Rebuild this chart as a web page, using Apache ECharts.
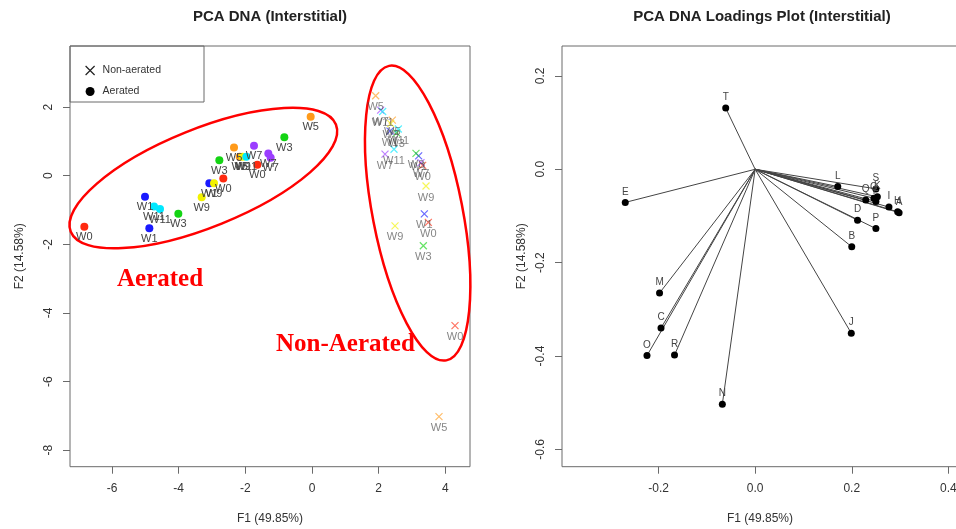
<!DOCTYPE html>
<html>
<head>
<meta charset="utf-8">
<script src="https://cdn.jsdelivr.net/npm/echarts@6/dist/echarts.min.js"></script>
<style>
  html, body { margin: 0; padding: 0; background: #fff; }
  #chart { width: 956px; height: 529px; }
</style>
</head>
<body>
<div id="chart"></div>
<script>
// ---- Tick positions ----
const scoreXTicks = [-6, -4, -2, 0, 2, 4];
const scoreYTicks = [-8, -6, -4, -2, 0, 2];
const loadXTicks = [-0.2, 0.0, 0.2, 0.4];
const loadYTicks = [-0.6, -0.4, -0.2, 0.0, 0.2];

// ---- PCA scores: aerated samples ----
const aeratedWeek = ['W0','W0','W0','W1','W1','W1','W3','W3','W3','W5','W5','W5','W7','W7','W7','W9','W9','W9','W11','W11','W11'];
const aeratedF1 = [-6.83, -2.66, -1.64, -5.01, -4.88, -3.08, -4.01, -2.78, -0.83, -2.34, -0.04, -2.17, -1.74, -1.31, -1.24, -3.31, -2.94, -2.08, -4.74, -4.56, -1.97];
const aeratedF2 = [-1.49, -0.08, 0.32, -0.61, -1.53, -0.22, -1.11, 0.45, 1.12, 0.82, 1.72, 0.55, 0.87, 0.65, 0.52, -0.63, -0.22, 0.55, -0.90, -0.97, 0.55];

// ---- PCA scores: non-aerated samples ----
const nonAeratedWeek = ['W0','W0','W0','W1','W1','W1','W3','W3','W3','W5','W5','W5','W7','W7','W7','W9','W9','W9','W11','W11','W11'];
const nonAeratedF1 = [3.32, 3.49, 4.29, 2.34, 3.20, 3.37, 2.54, 3.12, 3.34, 1.91, 2.41, 3.81, 2.06, 2.19, 3.27, 2.36, 3.42, 2.49, 2.59, 2.46, 2.12];
const nonAeratedF2 = [0.30, -1.36, -4.37, 1.30, 0.58, -1.11, 1.25, 0.65, -2.04, 2.33, 1.62, -7.02, 1.91, 0.63, 0.38, 1.52, -0.30, -1.46, 1.36, 0.77, 1.87];

// ---- PCA loadings ----
const loadVars = ['A','B','C','D','E','F','G','H','I','J','K','L','M','N','O','P','Q','R','S','T'];
const loadF1 = [0.298, 0.200, -0.195, 0.212, -0.269, 0.250, 0.246, 0.295, 0.277, 0.199, 0.253, 0.171, -0.198, -0.068, -0.224, 0.250, 0.229, -0.167, 0.250, -0.061];
const loadF2 = [-0.093, -0.166, -0.340, -0.109, -0.071, -0.069, -0.062, -0.091, -0.081, -0.351, -0.059, -0.037, -0.265, -0.503, -0.399, -0.127, -0.066, -0.398, -0.042, 0.131];

// ---- Styling ----
const weekColors = {
  W0: '#ff2a10', W1: '#1a1aff', W3: '#14d414', W5: '#ff9a1a',
  W7: '#9b3dff', W9: '#f2f200', W11: '#00e8ff'
};
const FONT = '"Liberation Sans", Arial, Helvetica, sans-serif';
const SERIF = '"Liberation Serif", "Times New Roman", serif';
const CROSS = 'path://M0,0L10,10M10,0L0,10';
const BOX = '#6a6a6a';
const TEXT = '#333';

const chart = echarts.init(document.getElementById('chart'));

function axis(gridIndex, min, max, ticks, fmt, rotate, margin, name, nameGap) {
  return {
    type: 'value', gridIndex, min, max, name,
    nameLocation: 'middle', nameGap,
    nameTextStyle: { fontSize: 12, color: TEXT, fontFamily: FONT },
    axisLine: { show: false, onZero: false },
    splitLine: { show: false },
    axisTick: { show: true, length: 7, customValues: ticks, lineStyle: { color: BOX, width: 1 } },
    axisLabel: { customValues: ticks, formatter: fmt, rotate, margin, fontSize: 12, color: TEXT, fontFamily: FONT }
  };
}
const intFmt = v => String(v);
const decFmt = v => v.toFixed(1);

function scoreItems(weeks, xs, ys) {
  return xs.map((x, i) => ({ value: [x, ys[i]], name: weeks[i], week: weeks[i] }));
}

chart.setOption({
  animation: false,
  grid: [
    { left: 70, top: 46, width: 400, height: 420.7, show: true, borderColor: BOX, borderWidth: 1, backgroundColor: 'transparent', outerBoundsMode: 'none', containLabel: false },
    { left: 562, top: 46, width: 396, height: 420.7, show: true, borderColor: BOX, borderWidth: 1, backgroundColor: 'transparent', outerBoundsMode: 'none', containLabel: false }
  ],
  xAxis: [
    axis(0, -7.26, 4.74, scoreXTicks, intFmt, 0, 16, 'F1 (49.85%)', 46),
    axis(1, -0.40, 0.420, loadXTicks, decFmt, 0, 16, 'F1 (49.85%)', 46)
  ],
  yAxis: [
    axis(0, -8.48, 3.78, scoreYTicks, intFmt, 90, 15, 'F2 (14.58%)', 44),
    axis(1, -0.637, 0.264, loadYTicks, decFmt, 90, 15, 'F2 (14.58%)', 34)
  ],
  legend: {
    left: 80, top: 60, orient: 'vertical', itemWidth: 9, itemHeight: 9, itemGap: 10,
    selectedMode: false,
    textStyle: { fontSize: 10.5, color: TEXT, fontFamily: FONT, padding: [0, 0, 0, 3] },
    data: [
      { name: 'Non-aerated', icon: CROSS, itemStyle: { color: 'transparent', borderColor: '#222', borderWidth: 1.2, opacity: 1 } },
      { name: 'Aerated', icon: 'circle', itemStyle: { color: '#000', borderWidth: 0, opacity: 1 } }
    ]
  },
  series: [
    {
      name: 'Non-aerated', type: 'scatter', xAxisIndex: 0, yAxisIndex: 0,
      symbol: CROSS, symbolSize: 7,
      data: scoreItems(nonAeratedWeek, nonAeratedF1, nonAeratedF2).map(d => ({
        ...d, itemStyle: { color: 'transparent', borderColor: weekColors[d.week], borderWidth: 1.2, opacity: 0.65 }
      })),
      label: { show: true, position: 'bottom', distance: 2, formatter: p => p.name, fontSize: 11, color: '#444', fontFamily: FONT },
      emphasis: { disabled: true }
    },
    {
      name: 'Aerated', type: 'scatter', xAxisIndex: 0, yAxisIndex: 0,
      symbol: 'circle', symbolSize: 8,
      data: scoreItems(aeratedWeek, aeratedF1, aeratedF2).map(d => ({
        ...d, itemStyle: { color: weekColors[d.week], opacity: 1 }
      })),
      label: { show: true, position: 'bottom', distance: 1, formatter: p => p.name, fontSize: 11, color: '#444', fontFamily: FONT },
      emphasis: { disabled: true }
    },
    {
      name: 'Loading vectors', type: 'lines', coordinateSystem: 'cartesian2d', xAxisIndex: 1, yAxisIndex: 1,
      silent: true,
      lineStyle: { color: '#444', width: 1, opacity: 1 },
      data: loadVars.map((v, i) => ({ coords: [[0, 0], [loadF1[i], loadF2[i]]] }))
    },
    {
      name: 'Loadings', type: 'scatter', xAxisIndex: 1, yAxisIndex: 1,
      symbol: 'circle', symbolSize: 7,
      itemStyle: { color: '#000', opacity: 1 },
      data: loadVars.map((v, i) => ({ value: [loadF1[i], loadF2[i]], name: v })),
      label: { show: true, position: 'top', distance: 2, formatter: p => p.name, fontSize: 10, color: '#444', fontFamily: FONT },
      emphasis: { disabled: true }
    }
  ]
});

// ---- Group outlines drawn around the score clusters (centre in data units, radii in px) ----
const groupRings = [
  { center: [-3.26, -0.07], rx: 143, ry: 49, angle: 22 },
  { center: [3.17, -1.09], rx: 45, ry: 150, angle: 11 }
];

const graphics = [
  { type: 'text', x: 270, y: 17, style: { text: 'PCA DNA (Interstitial)', align: 'center', verticalAlign: 'middle', font: 'bold 15px ' + FONT, fill: '#222' } },
  { type: 'text', x: 762, y: 17, style: { text: 'PCA DNA Loadings Plot (Interstitial)', align: 'center', verticalAlign: 'middle', font: 'bold 15px ' + FONT, fill: '#222' } },
  { type: 'rect', shape: { x: 70, y: 46, width: 134, height: 56 }, style: { fill: 'transparent', stroke: BOX, lineWidth: 1 }, silent: true },
  { type: 'text', x: 117, y: 280, style: { text: 'Aerated', align: 'left', verticalAlign: 'middle', font: 'bold 25px ' + SERIF, fill: '#f00' } },
  { type: 'text', x: 276, y: 345, style: { text: 'Non-Aerated', align: 'left', verticalAlign: 'middle', font: 'bold 25px ' + SERIF, fill: '#f00' } }
];
groupRings.forEach(r => {
  const p = chart.convertToPixel({ gridIndex: 0 }, r.center);
  graphics.push({
    type: 'ellipse', x: p[0], y: p[1], rotation: r.angle * Math.PI / 180,
    shape: { cx: 0, cy: 0, rx: r.rx, ry: r.ry },
    style: { fill: 'transparent', stroke: '#f00', lineWidth: 2.5 },
    silent: true
  });
});
chart.setOption({ graphic: graphics });
</script>
</body>
</html>
